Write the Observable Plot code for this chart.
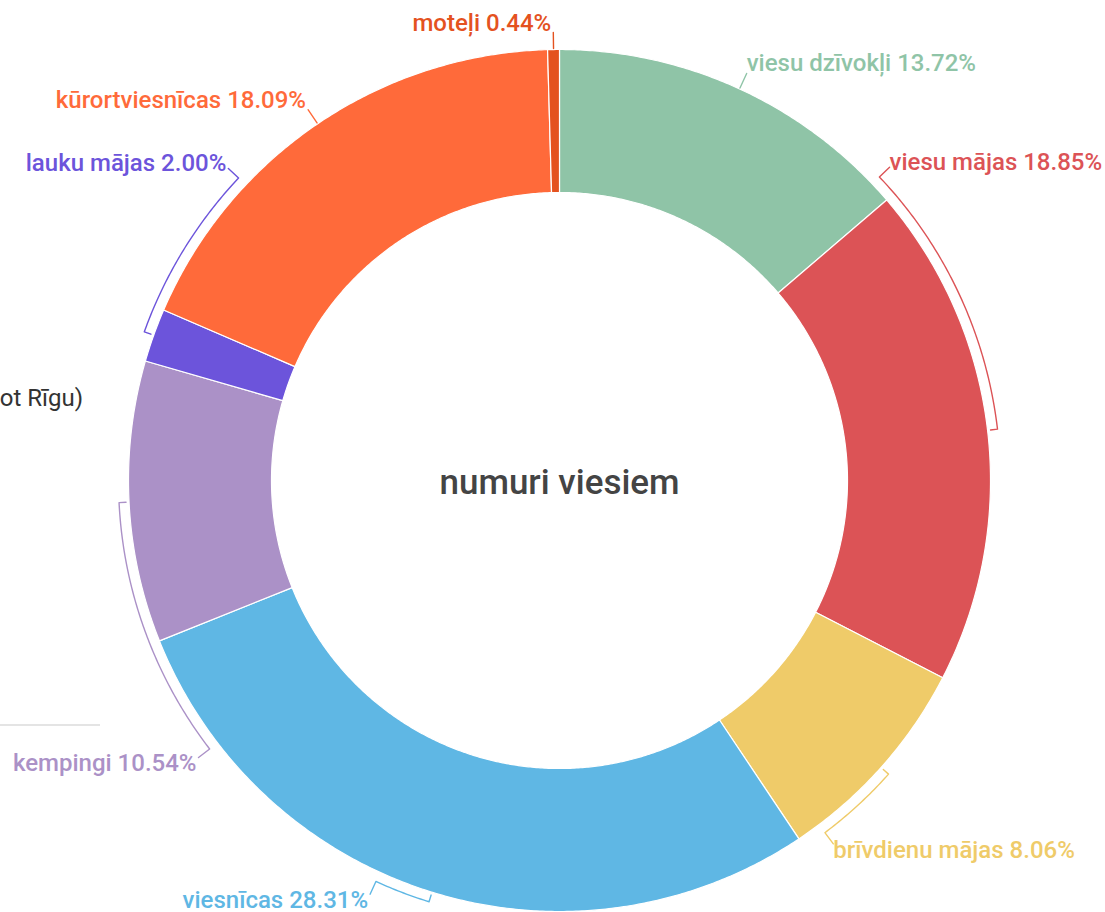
<!DOCTYPE html>
<html><head><meta charset="utf-8">
<script src="https://cdn.jsdelivr.net/npm/d3@7"></script>
<script src="https://cdn.jsdelivr.net/npm/@observablehq/plot@0.6"></script>
<style>
body{margin:0;background:#fff;font-family:Roboto,sans-serif;}
#wrap{position:relative;width:1105px;height:912px;overflow:hidden;background:#fff;}
#wrap svg{position:absolute;left:0;top:0;}
.frag{position:absolute;font-family:Roboto,sans-serif;}
</style></head><body>
<div id="wrap">
  <div class="frag" style="right:1022px;top:386px;font-size:24px;line-height:24px;color:#333;white-space:nowrap;">ot Rīgu)</div>
  <div class="frag" style="left:0;top:724px;width:100px;height:2px;background:#e4e4e4;"></div>
</div>
<script>
// ---- data ----
const categories = ["viesu dzīvokļi","viesu mājas","brīvdienu mājas","viesnīcas","kempingi","lauku mājas","kūrortviesnīcas","moteļi"];
const shares = [13.72, 18.85, 8.06, 28.31, 10.54, 2.00, 18.09, 0.44];
const colors = ["#8fc4a7","#dc5356","#efcb69","#5fb7e4","#ab91c7","#6c54db","#ff6a3a","#e4521f"];
const centerTitle = "numuri viesiem";
// label placement angle (degrees clockwise from top); null = at slice middle
const labelAngles = [null, 46.5, 143, 204.6, 232.5, 313.3, null, null];

// ---- layout ----
const W = 1105, H = 912, cx = 559, cy = 480, R = 431, R0 = 288;
const deg = Math.PI / 180;
const pt = (a, r) => ({x: r * Math.sin(a * deg), y: -r * Math.cos(a * deg)});
function arcPts(a0, a1, r) {
  const n = Math.max(2, Math.ceil(Math.abs(a1 - a0) / 0.4));
  return d3.range(n + 1).map(i => pt(a0 + (a1 - a0) * i / n, r));
}
const total = d3.sum(shares);
let cum = 0;
const slices = categories.map((c, i) => {
  const a0 = cum / total * 360; cum += shares[i];
  const a1 = cum / total * 360;
  return {key: c, a0, a1, mid: (a0 + a1) / 2, share: shares[i], la: labelAngles[i]};
});
const slicePts = slices.flatMap(s =>
  [...arcPts(s.a0, s.a1, R), ...arcPts(s.a1, s.a0, R0)].map(p => ({...p, key: s.key})));

const labels = [];
const leaderPts = slices.flatMap(s => {
  let pts;
  const direct = s.la == null;
  if (direct) pts = [pt(s.mid, R + 1), pt(s.mid, R + 17)];
  else pts = [pt(s.mid, R + 3), ...arcPts(s.mid, s.la, R + 10), pt(s.la, R + 24)];
  const e = pts[pts.length - 1];
  const off = e.y > 0 ? 7 : (direct ? -9 : -4);
  labels.push({x: e.x, y: e.y + off, key: s.key, right: e.x >= 0,
               text: `${s.key} ${s.share.toFixed(2)}%`});
  return pts.map(p => ({...p, key: s.key}));
});

const textOpts = {x: "x", y: "y", text: "text", fill: "key", lineAnchor: "bottom", dy: 7, fontSize: 24, fontWeight: 500};
const chart = Plot.plot({
  width: W, height: H, margin: 0,
  x: {domain: [-cx, W - cx], range: [0, W], axis: null},
  y: {domain: [-cy, H - cy], range: [0, H], axis: null},
  color: {domain: categories, range: colors},
  style: {fontFamily: "Roboto, sans-serif", background: "transparent", overflow: "visible"},
  marks: [
    Plot.line(slicePts, {x: "x", y: "y", z: "key", fill: "key", stroke: "white", strokeWidth: 1.2, curve: "linear-closed"}),
    Plot.line(leaderPts, {x: "x", y: "y", z: "key", stroke: "key", strokeWidth: 1.4}),
    Plot.text(labels.filter(d => d.right), {...textOpts, textAnchor: "start", dx: 0}),
    Plot.text(labels.filter(d => !d.right), {...textOpts, textAnchor: "end", dx: -2}),
    Plot.text([{x: 0, y: 0, t: centerTitle}], {x: "x", y: "y", text: "t", fontSize: 35, fontWeight: 500, fill: "#444", dy: 2})
  ]
});
document.getElementById("wrap").appendChild(chart);
</script>
</body></html>
